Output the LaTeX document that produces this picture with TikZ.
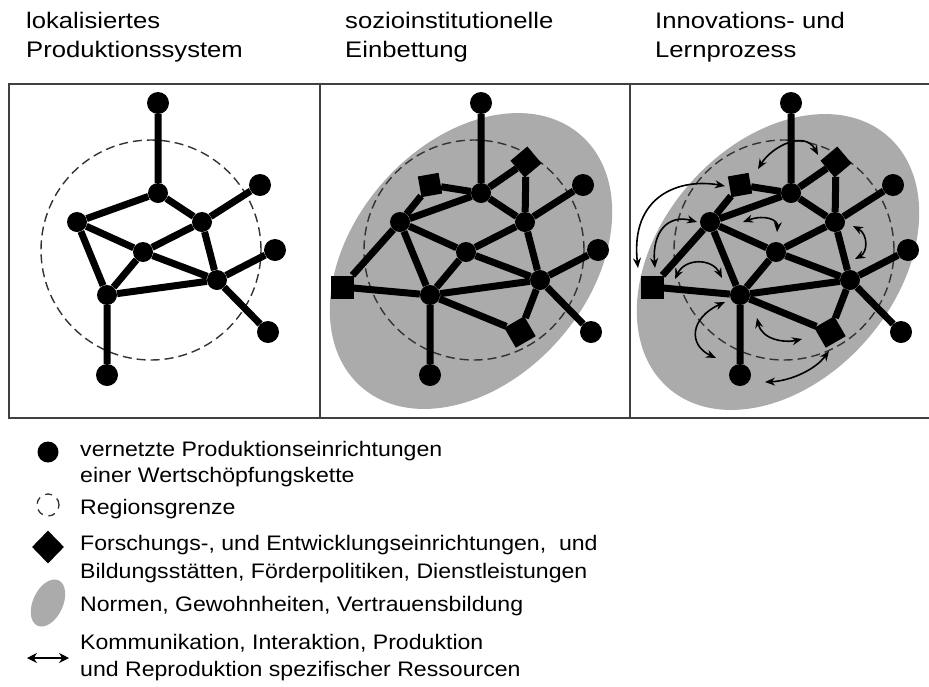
\documentclass[tikz,border=0pt]{standalone}
\usepackage{fontspec}
\setmainfont{Liberation Sans}
\usetikzlibrary{arrows.meta,shapes.geometric}
\tikzset{
 pt/.style={circle,fill=black,inner sep=0pt,minimum size=22pt},
 ipt/.style={circle,fill=black,inner sep=0pt,minimum size=20pt},
 sq/.style={rectangle,fill=black,inner sep=0pt,minimum size=21pt},
 edge/.style={line width=7pt,black},
 region/.style={dash pattern=on 9pt off 5pt,line width=1.4pt,draw=black!80},
 norm/.style={fill=black!33},
 frame/.style={line width=1.8pt,draw=black!75},
 arr/.style={line width=1.6pt,{Stealth[length=10pt,width=8pt]}-{Stealth[length=10pt,width=8pt]}},
 head/.style={anchor=base west,inner sep=0pt,font=\fontsize{22.5}{26}\selectfont},
 leg/.style={anchor=base west,inner sep=0pt,font=\fontsize{21}{25}\selectfont},
}
\newcommand\netnodes[1]{%
 \node[pt] (#1T) at (158,103) {};
 \node[ipt] (#1A) at (158,193) {};
 \node[ipt] (#1L) at (77,222) {};
 \node[ipt] (#1R) at (202,222) {};
 \node[ipt] (#1C) at (143,252) {};
 \node[ipt] (#1BL) at (107,295) {};
 \node[ipt] (#1BR) at (217,280) {};
 \node[pt] (#1O1) at (260,185) {};
 \node[pt] (#1O2) at (275,250) {};
 \node[pt] (#1O3) at (268,332) {};
 \node[pt] (#1B) at (107,375) {};
 \draw[edge] (#1T)--(#1A) (#1A)--(#1L) (#1A)--(#1R) (#1R)--(#1O1)
   (#1L)--(#1C) (#1C)--(#1R) (#1L)--(#1BL) (#1C)--(#1BL) (#1C)--(#1BR)
   (#1R)--(#1BR) (#1BL)--(#1BR) (#1BR)--(#1O2) (#1BR)--(#1O3) (#1BL)--(#1B);
}
\newcommand\netextra[1]{%
 \node[sq,rotate=10] (#1S1) at (107,185) {};
 \node[sq,rotate=40,minimum size=22pt] (#1S2) at (203,162) {};
 \node[sq,minimum size=23pt] (#1S3) at (19,287) {};
 \node[sq,rotate=30,minimum size=23pt] (#1S4) at (197,332) {};
 \draw[edge] (#1S1)--(#1A) (#1S1)--(#1L) (#1S2)--(#1A) (#1S2)--(#1R)
   (#1S3)--(#1L) (#1S3)--(#1BL) (#1BL)--(#1S4) (#1S4)--(#1BR);
}
\begin{document}
\begin{tikzpicture}[x=1pt,y=-1pt]
\useasboundingbox (0,0) rectangle (929,686);
% headers
\node[head] (h1a) at (26,28) {\scalebox{1.14}[1]{lokalisiertes}};
\node[head] (h1b) at (26,57) {\scalebox{1.14}[1]{Produktionssystem}};
\node[head] (h2a) at (345,28) {\scalebox{1.14}[1]{sozioinstitutionelle}};
\node[head] (h2b) at (345,57) {\scalebox{1.14}[1]{Einbettung}};
\node[head] (h3a) at (655,28) {\scalebox{1.14}[1]{Innovations- und}};
\node[head] (h3b) at (655,57) {\scalebox{1.14}[1]{Lernprozess}};
% panel 1
\draw[region] (151,250) circle [radius=110pt];
\netnodes{a}
% panel 2
\begin{scope}[xshift=323pt]
 \fill[norm,rotate around={49:(148,261)}] (148,261) ellipse [x radius=167pt,y radius=118pt];
 \draw[region] (151,250) circle [radius=110pt];
 \netnodes{b}
 \netextra{b}
\end{scope}
% panel 3
\begin{scope}[xshift=633pt]
 \fill[norm,rotate around={49:(145,262)}] (145,262) ellipse [x radius=167pt,y radius=118pt];
 \draw[region] (151,250) circle [radius=110pt];
 \netnodes{c}
 \netextra{c}
\end{scope}
% interaction arrows
\coordinate (p1s) at (758,169); \coordinate (p1e) at (818,155);
\coordinate (p2s) at (638,268); \coordinate (p2e) at (725,186);
\coordinate (p3s) at (655,268); \coordinate (p3e) at (697,222);
\coordinate (p4s) at (743,222); \coordinate (p4e) at (777,232);
\coordinate (p5s) at (853,226); \coordinate (p5e) at (855,259);
\coordinate (p6s) at (675,279); \coordinate (p6e) at (722,278);
\coordinate (p7s) at (725,302); \coordinate (p7e) at (716,358);
\coordinate (p8s) at (757,318); \coordinate (p8e) at (802,339);
\coordinate (p9s) at (765,382); \coordinate (p9e) at (829,351);
\draw[arr] (p1s) .. controls (772,146) and (805,130) .. (p1e);
\draw[arr] (p2s) .. controls (630,195) and (680,178) .. (p2e);
\draw[arr] (p3s) .. controls (652,232) and (668,214) .. (p3e);
\draw[arr] (p4s) .. controls (765,214) and (778,220) .. (p4e);
\draw[arr] (p5s) .. controls (868,234) and (868,252) .. (p5e);
\draw[arr] (p6s) .. controls (685,258) and (712,258) .. (p6e);
\draw[arr] (p7s) .. controls (690,318) and (688,345) .. (p7e);
\draw[arr] (p8s) .. controls (762,340) and (785,343) .. (p8e);
\draw[arr] (p9s) .. controls (790,381) and (815,370) .. (p9e);
% frame
\draw[frame] (929,84) -- (9,84) -- (9,418) -- (929,418);
\draw[frame] (320,84) -- (320,418);
\draw[frame] (630,84) -- (630,418);
% legend
\node[pt,minimum size=21pt] (k1) at (48,452) {};
\draw[region,line width=1.3pt,dash pattern=on 7pt off 6pt] (48,505) circle [radius=11pt];
\node[diamond,fill=black,inner sep=0pt,minimum width=32pt,minimum height=33pt] (k3) at (48,547) {};
\fill[norm,rotate around={65:(48,603)}] (48,603) ellipse [x radius=25pt,y radius=15pt];
\coordinate (k5a) at (27,658); \coordinate (k5b) at (69,658);
\draw[line width=2.2pt,{Stealth[length=10pt,width=10pt]}-{Stealth[length=10pt,width=10pt]}] (k5a) -- (k5b);
\node[leg] (t1) at (80,456) {\scalebox{1.1}[1]{vernetzte Produktionseinrichtungen}};
\node[leg] (t2) at (80,482) {\scalebox{1.1}[1]{einer Wertschöpfungskette}};
\node[leg] (t3) at (80,514) {\scalebox{1.1}[1]{Regionsgrenze}};
\node[leg] (t4) at (80,550) {\scalebox{1.1}[1]{Forschungs-, und Entwicklungseinrichtungen,~ und}};
\node[leg] (t5) at (80,578) {\scalebox{1.1}[1]{Bildungsstätten, Förderpolitiken, Dienstleistungen}};
\node[leg] (t6) at (80,611) {\scalebox{1.1}[1]{Normen, Gewohnheiten, Vertrauensbildung}};
\node[leg] (t7) at (80,649) {\scalebox{1.1}[1]{Kommunikation, Interaktion, Produktion}};
\node[leg] (t8) at (80,676) {\scalebox{1.1}[1]{und Reproduktion spezifischer Ressourcen}};
\end{tikzpicture}
\end{document}
